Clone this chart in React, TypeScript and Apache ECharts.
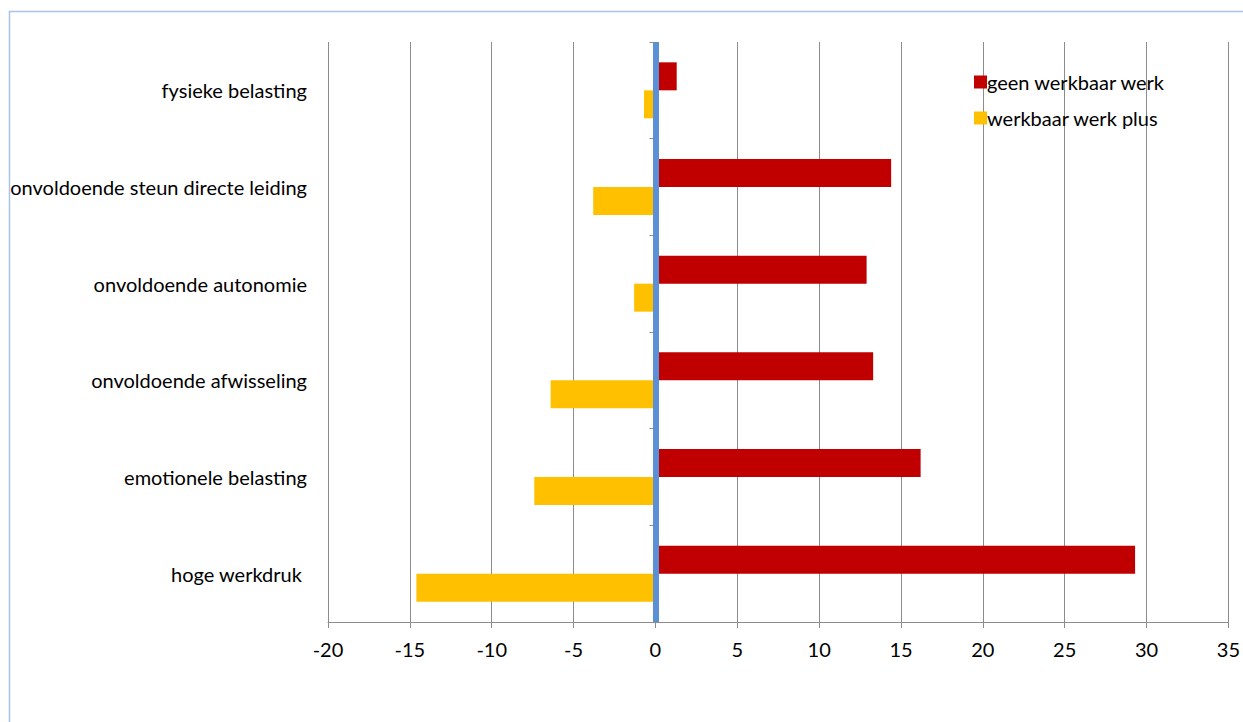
import React, { useEffect, useRef } from "react";
import * as echarts from "echarts";

const categories = [
  "fysieke belasting",
  "onvoldoende steun directe leiding",
  "onvoldoende autonomie",
  "onvoldoende afwisseling",
  "emotionele belasting",
  "hoge werkdruk ",
];
const geenWerkbaarWerk = [1.3, 14.4, 12.9, 13.3, 16.2, 29.3];
const werkbaarWerkPlus = [-0.7, -3.8, -1.3, -6.4, -7.4, -14.6];
const seriesNames = ["geen werkbaar werk", "werkbaar werk plus"];

const FONT = "Lato, 'Liberation Sans', Arial, sans-serif";
const FS = 20;

export default function App() {
  const ref = useRef<HTMLDivElement>(null);
  useEffect(() => {
    if (!ref.current) return;
    const chart = echarts.init(ref.current, null, { renderer: "svg" });
    chart.setOption({
      animation: false,
      backgroundColor: "#ffffff",
      textStyle: { fontFamily: FONT },
      graphic: [
        {
          type: "rect",
          shape: { x: 9.5, y: 11.5, width: 1260, height: 740 },
          style: { fill: "none", stroke: "#a8c3e6", lineWidth: 1.5 },
          silent: true,
        },
      ],
      legend: {
        data: seriesNames,
        orient: "vertical",
        left: 969,
        top: 67,
        itemWidth: 13,
        itemHeight: 13,
        itemGap: 16,
        icon: "rect",
        textStyle: { fontFamily: FONT, fontSize: FS, color: "#000", padding: [0, 0, 0, -5] },
      },
      grid: { left: 328, right: 7, top: 42, bottom: 100, containLabel: false },
      xAxis: {
        type: "value",
        min: -20,
        max: 35,
        interval: 5,
        axisLine: { show: true, onZero: false, lineStyle: { color: "#8c8c8c", width: 1 } },
        axisTick: { show: true, length: 6, lineStyle: { color: "#8c8c8c" } },
        splitLine: { show: true, lineStyle: { color: "#8c8c8c", width: 1 } },
        axisLabel: { color: "#000", fontSize: FS, fontFamily: FONT, margin: 17 },
      },
      yAxis: [
        {
          type: "category",
          data: categories,
          inverse: true,
          position: "left",
          axisLine: { show: false, onZero: false },
          axisTick: { show: false },
          axisLabel: { color: "#000", fontSize: FS, fontFamily: FONT, margin: 21 },
        },
        {
          type: "category",
          data: categories,
          inverse: true,
          position: "left",
          axisLine: { show: false, onZero: true },
          axisTick: { show: true, length: 6, lineStyle: { color: "#8c8c8c", width: 1 } },
          axisLabel: { show: false },
          splitLine: { show: false },
        },
      ],
      series: [
        {
          name: seriesNames[0],
          type: "bar",
          yAxisIndex: 0,
          data: geenWerkbaarWerk,
          barWidth: 28,
          barGap: "0%",
          itemStyle: { color: "#c00000" },
          markLine: {
            silent: true,
            symbol: ["none", "none"],
            label: { show: false },
            z: 10,
            lineStyle: { type: "solid", color: "#5b8fd6", width: 6 },
            data: [{ xAxis: 0 }],
          },
        },
        {
          name: seriesNames[1],
          type: "bar",
          yAxisIndex: 0,
          data: werkbaarWerkPlus,
          barWidth: 28,
          barGap: "0%",
          itemStyle: { color: "#ffc000" },
        },
      ],
    });
    return () => chart.dispose();
  }, []);
  return (
    <div
      ref={ref}
      style={{ position: "fixed", left: 0, top: 0, width: 1243, height: 722 }}
    />
  );
}
